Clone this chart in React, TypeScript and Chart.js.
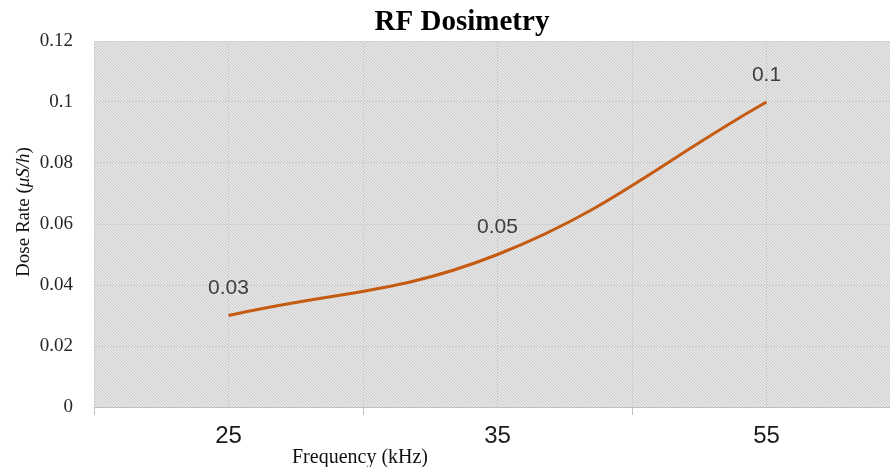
import React, { useEffect, useRef } from "react";
import { Chart, registerables } from "chart.js";

Chart.register(...registerables);

const categories = ["25", "35", "55"];
const doseRate = [0.03, 0.05, 0.1];
const dataLabels = ["0.03", "0.05", "0.1"];
const chartTitle = "RF Dosimetry";
const xTitle = "Frequency (kHz)";
const yTitleParts = [
  { text: "Dose Rate (", italic: false },
  { text: "μS/h", italic: true },
  { text: ")", italic: false },
];

function makePattern(ctx: CanvasRenderingContext2D) {
  const n = 3;
  const c = document.createElement("canvas");
  c.width = n;
  c.height = n;
  const g = c.getContext("2d")!;
  const img = g.createImageData(n, n);
  for (let j = 0; j < n; j++) {
    for (let i = 0; i < n; i++) {
      const k = (j * n + i) * 4;
      const dark = (i - j + 3 * n) % n === 0;
      const v = dark ? 0xcb : 0xe6;
      img.data[k] = v;
      img.data[k + 1] = v;
      img.data[k + 2] = v;
      img.data[k + 3] = 255;
    }
  }
  g.putImageData(img, 0, 0);
  return ctx.createPattern(c, "repeat");
}

const decorPlugin = {
  id: "decor",
  beforeDraw(chart: any) {
    const { ctx, chartArea } = chart;
    const p = makePattern(ctx);
    ctx.save();
    ctx.fillStyle = p || "#d9d9d9";
    ctx.fillRect(chartArea.left, chartArea.top, chartArea.right - chartArea.left, chartArea.bottom - chartArea.top);
    ctx.restore();
  },
  afterDraw(chart: any) {
    const { ctx } = chart;
    ctx.save();
    // title
    ctx.fillStyle = "#000";
    ctx.font = "bold 29px 'Liberation Serif'";
    ctx.textAlign = "center";
    ctx.textBaseline = "middle";
    ctx.fillText(chartTitle, 462, 23);
    // x title
    ctx.font = "20px 'Liberation Serif'";
    ctx.fillStyle = "#111";
    ctx.fillText(xTitle, 360, 458);
    // y title
    ctx.save();
    ctx.translate(24, 212);
    ctx.rotate(-Math.PI / 2);
    const fontFor = (it: boolean) => (it ? "italic 19px 'Liberation Serif'" : "19px 'Liberation Serif'");
    let total = 0;
    for (const part of yTitleParts) {
      ctx.font = fontFor(part.italic);
      total += ctx.measureText(part.text).width;
    }
    let x = -total / 2;
    ctx.textAlign = "left";
    for (const part of yTitleParts) {
      ctx.font = fontFor(part.italic);
      ctx.fillText(part.text, x, 0);
      x += ctx.measureText(part.text).width;
    }
    ctx.restore();
    // data labels
    const meta = chart.getDatasetMeta(0);
    ctx.font = "21px 'Liberation Sans'";
    ctx.fillStyle = "#404040";
    ctx.textAlign = "center";
    ctx.textBaseline = "middle";
    meta.data.forEach((pt: any, i: number) => {
      ctx.fillText(dataLabels[i], pt.x, pt.y - 27);
    });
    ctx.restore();
  },
};

export default function App() {
  const ref = useRef<HTMLCanvasElement>(null);
  useEffect(() => {
    const chart = new Chart(ref.current!, {
      type: "line",
      data: {
        datasets: [
          {
            data: doseRate.map((v, i) => ({ x: i, y: v })),
            borderColor: "#c55a11",
            borderWidth: 3,
            pointRadius: 0,
            tension: 0.4,
            fill: false,
          },
        ],
      },
      options: {
        animation: false,
        responsive: false,
        maintainAspectRatio: false,
        layout: { padding: { top: 41, right: 0, left: 0, bottom: 0 } },
        plugins: {
          legend: { display: false },
          title: { display: false },
          tooltip: { enabled: false },
        },
        scales: {
          x: {
            type: "linear",
            min: -0.5,
            max: categories.length - 0.5,
            afterBuildTicks: (s: any) => {
              const t = [];
              for (let v = -0.5; v <= categories.length - 0.5 + 1e-9; v += 0.5) t.push({ value: v });
              s.ticks = t;
            },
            afterFit: (s: any) => {
              s.height = 60;
              s.paddingRight = 0;
              s.paddingLeft = 0;
            },
            ticks: {
              autoSkip: false,
              maxRotation: 0,
              padding: 7,
              color: "#1a1a1a",
              font: { family: "'Liberation Sans'", size: 24 },
              callback: (v: any) => {
                const n = Number(v);
                return Number.isInteger(n) ? categories[n] : "";
              },
            },
            grid: {
              color: "#d2d2d2",
              lineWidth: 1,
              tickLength: 8,
              tickColor: (c: any) => (c.tick && !Number.isInteger(c.tick.value) ? "#bfbfbf" : "rgba(0,0,0,0)"),
            },
            border: { display: true, color: "#bfbfbf", width: 1 },
          },
          y: {
            min: 0,
            max: 0.12,
            afterFit: (s: any) => {
              s.width = 94;
            },
            ticks: {
              stepSize: 0.02,
              padding: 21,
              color: "#262626",
              font: { family: "'Liberation Serif'", size: 19 },
              callback: (v: any) => String(+Number(v).toFixed(2)),
            },
            grid: { color: "#d2d2d2", lineWidth: 1, drawTicks: false },
            border: { display: false },
          },
        },
      },
      plugins: [decorPlugin],
    } as any);
    return () => chart.destroy();
  }, []);
  return (
    <div style={{ position: "fixed", left: 0, top: 0, width: 890, height: 467, overflow: "hidden", background: "#fff" }}>
      <div style={{ width: 901, height: 467 }}>
        <canvas ref={ref} width={901} height={467} style={{ display: "block", width: 901, height: 467 }} />
      </div>
    </div>
  );
}
